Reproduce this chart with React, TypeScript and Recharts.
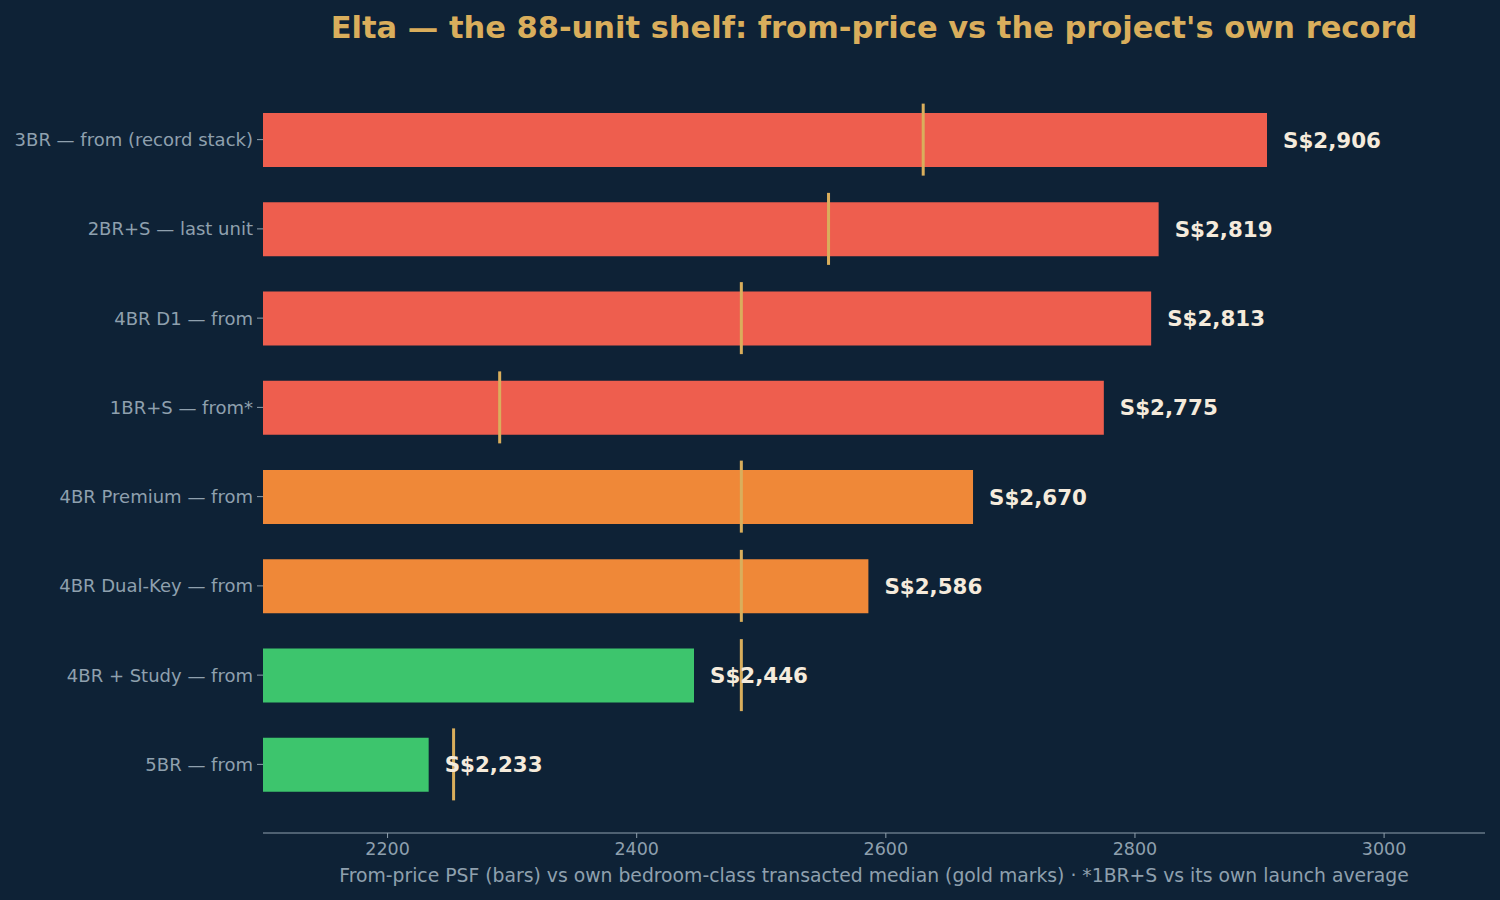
import React from 'react';
import {
  ComposedChart,
  Bar,
  Scatter,
  Cell,
  XAxis,
  YAxis,
  LabelList
} from 'recharts';

const CATEGORIES = [
  '3BR — from (record stack)',
  '2BR+S — last unit',
  '4BR D1 — from',
  '1BR+S — from*',
  '4BR Premium — from',
  '4BR Dual-Key — from',
  '4BR + Study — from',
  '5BR — from'
];
const FROM_PSF = [2906, 2819, 2813, 2775, 2670, 2586, 2446, 2233];
const MEDIAN_PSF = [2630, 2554, 2484, 2290, 2484, 2484, 2484, 2253];
const X_TICKS = [2200, 2400, 2600, 2800, 3000];

const BG = '#0E2236';
const GOLD = '#D9AE5C';
const MUTED = '#8FA0AE';
const CREAM = '#F5EBDC';
const RED = '#EE5E4E';
const ORANGE = '#EF8838';
const GREEN = '#3DC56D';

const barColor = (v: number) => (v >= 2700 ? RED : v >= 2500 ? ORANGE : GREEN);

const data = CATEGORIES.map((name, i) => ({
  name,
  fromPsf: FROM_PSF[i],
  median: MEDIAN_PSF[i]
}));

const FONT = '"DejaVu Sans", sans-serif';

const GoldMark = (props: any) => {
  const { cx, cy } = props;
  if (cx == null || cy == null) return null;
  return <rect x={cx - 1.5} y={cy - 36} width={3} height={72} fill={GOLD} />;
};

const App: React.FC = () => {
  return (
    <div style={{ position: 'absolute', left: 0, top: 0, width: 1500, height: 900, background: BG, fontFamily: FONT }}>
      <div
        style={{
          position: 'absolute',
          top: 10,
          left: 263,
          width: 1222,
          textAlign: 'center',
          color: GOLD,
          fontWeight: 'bold',
          fontSize: 30.5,
          lineHeight: '36px',
          fontFamily: FONT,
          whiteSpace: 'nowrap'
        }}
      >
        Elta — the 88-unit shelf: from-price vs the project's own record
      </div>
      <ComposedChart
        width={1500}
        height={900}
        data={data}
        layout="vertical"
        margin={{ top: 71, right: 15, bottom: 0, left: 0 }}
      >
        <XAxis
          type="number"
          domain={[2100, 3081]}
          ticks={X_TICKS}
          allowDataOverflow
          height={67}
          stroke={MUTED}
          tickSize={5}
          tick={{ fill: MUTED, fontSize: 17.5, fontFamily: FONT }}
          tickMargin={5}
          label={{
            value: 'From-price PSF (bars) vs own bedroom-class transacted median (gold marks) · *1BR+S vs its own launch average',
            position: 'insideBottom',
            offset: 18,
            fill: MUTED,
            fontSize: 18.8,
            fontFamily: FONT
          }}
        />
        <YAxis
          type="category"
          dataKey="name"
          width={263}
          axisLine={false}
          stroke={MUTED}
          tickSize={6}
          tickMargin={4}
          padding={{ top: 24, bottom: 24 }}
          tick={{ fill: MUTED, fontSize: 18, fontFamily: FONT }}
        />
        <Bar dataKey="fromPsf" barSize={54} isAnimationActive={false}>
          {data.map((d, i) => (
            <Cell key={`c-${i}`} fill={barColor(d.fromPsf)} />
          ))}
          <LabelList
            dataKey="fromPsf"
            position="right"
            offset={16}
            formatter={(v: number) => 'S$' + v.toLocaleString('en-US')}
            style={{ fill: CREAM, fontWeight: 'bold', fontSize: 21.4, fontFamily: FONT }}
          />
        </Bar>
        <Scatter dataKey="median" shape={<GoldMark />} isAnimationActive={false} />
      </ComposedChart>
    </div>
  );
};

export default App;
